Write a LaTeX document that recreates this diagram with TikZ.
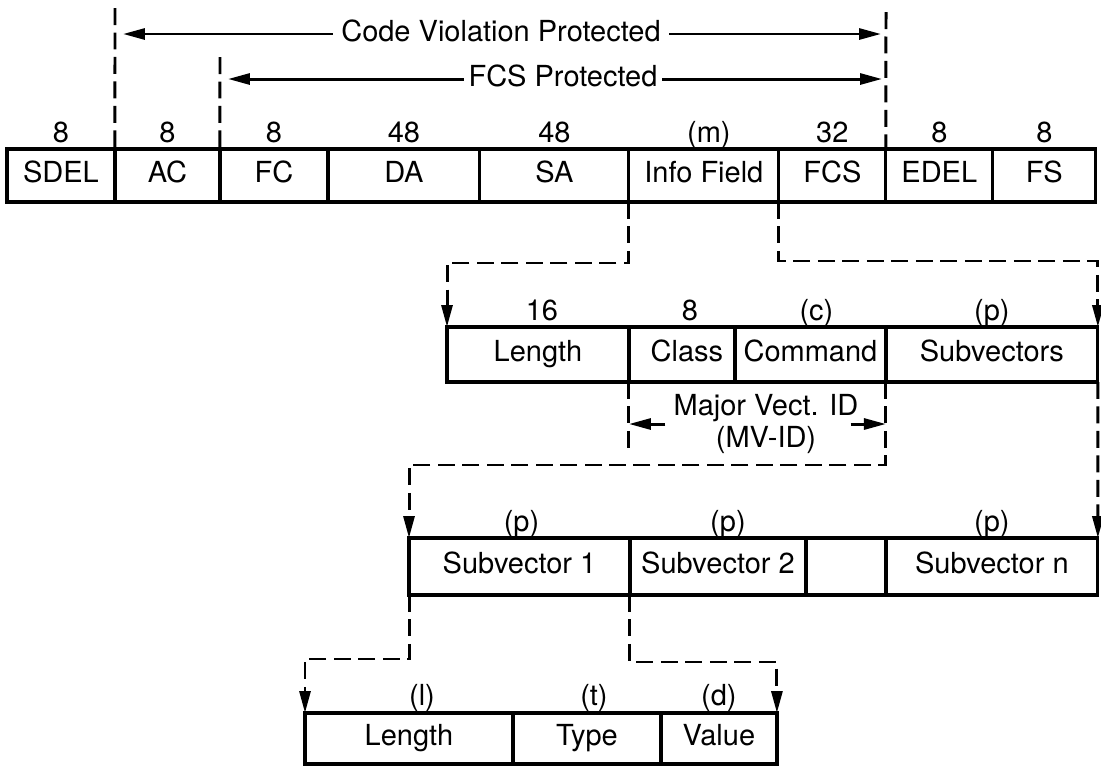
\documentclass[tikz,border=0pt]{standalone}
\usepackage{fontspec}
\setmainfont{TeX Gyre Heros}
\usetikzlibrary{positioning,arrows.meta}

\begin{document}
\begin{tikzpicture}[x=0.02cm, y=-0.02cm,
        font=\fontsize{16.5}{18.5}\selectfont,
        field/.style={draw, line width=1.8pt, anchor=north west, inner sep=0pt, outer sep=0pt,
                      text height=12pt, text depth=3.5pt},
        bits/.style={anchor=base, inner sep=0pt},
        dashline/.style={line width=1.7pt, dash pattern=on 0.34cm off 0.15cm},
        arr/.style={-{Triangle[length=0.44cm,width=0.22cm]}},
        solidarr/.style={line width=1.7pt, arr}]

    \useasboundingbox (0,0) rectangle (1101,765);

    % Frame fields
    \node[field, minimum width=2.16cm, minimum height=1.06cm] (sdel) at (7,149) {SDEL};
    \node[field, minimum width=2.10cm, minimum height=1.06cm, right=0pt of sdel] (ac) {AC};
    \node[field, minimum width=2.16cm, minimum height=1.06cm, right=0pt of ac] (fc) {FC};
    \node[field, minimum width=3.04cm, minimum height=1.06cm, right=0pt of fc] (da) {DA};
    \node[field, minimum width=2.98cm, minimum height=1.06cm, right=0pt of da] (sa) {SA};
    \node[field, minimum width=3.00cm, minimum height=1.06cm, right=0pt of sa] (info) {Info Field};
    \node[field, minimum width=2.14cm, minimum height=1.06cm, right=0pt of info] (fcs) {FCS};
    \node[field, minimum width=2.14cm, minimum height=1.06cm, right=0pt of fcs] (edel) {EDEL};
    \node[field, minimum width=2.06cm, minimum height=1.06cm, right=0pt of edel] (fs) {FS};

    \node[bits] (bsdel) at ([yshift=0.14cm]sdel.north) {8};
    \node[bits] (bac) at ([yshift=0.14cm]ac.north) {8};
    \node[bits] (bfc) at ([yshift=0.14cm]fc.north) {8};
    \node[bits] (bda) at ([yshift=0.14cm]da.north) {48};
    \node[bits] (bsa) at ([yshift=0.14cm]sa.north) {48};
    \node[bits] (binfo) at ([xshift=0.1cm,yshift=0.14cm]info.north) {(m)};
    \node[bits] (bfcs) at ([yshift=0.14cm]fcs.north) {32};
    \node[bits] (bedel) at ([yshift=0.14cm]edel.north) {8};
    \node[bits] (bfs) at ([yshift=0.14cm]fs.north) {8};

    % Protected ranges
    \coordinate (cvtop) at (115,8);
    \coordinate (fcstop) at (220,57);
    \coordinate (endtop) at (886,12);
    \draw[dashline] (cvtop) -- (sdel.north east);
    \draw[dashline] (fcstop) -- (ac.north east);
    \draw[dashline] (endtop) -- (fcs.north east);

    \node[field, draw=none, anchor=center, inner xsep=0.17cm] (cvp) at (501,34) {Code Violation Protected};
    \node[field, draw=none, anchor=center, inner xsep=0.1cm] (fcsp) at (563,79) {FCS Protected};
    \draw[solidarr] (cvp.west) -- ([xshift=0.16cm]cvp.west -| cvtop);
    \draw[solidarr] (cvp.east) -- ([xshift=-0.1cm]cvp.east -| endtop);
    \draw[solidarr] (fcsp.west) -- ([xshift=0.16cm]fcsp.west -| fcstop);
    \draw[solidarr] (fcsp.east) -- ([xshift=-0.08cm]fcsp.east -| endtop);

    % Info field
    \node[field, minimum width=3.64cm, minimum height=1.10cm] (len) at (447,327) {Length};
    \node[field, minimum width=2.12cm, minimum height=1.10cm, right=0pt of len] (class) {\hspace{0.2cm}Class};
    \node[field, minimum width=3.02cm, minimum height=1.10cm, right=0pt of class] (cmd) {Command};
    \node[field, minimum width=4.24cm, minimum height=1.10cm, right=0pt of cmd] (subv) {Subvectors};

    \node[bits] (blen) at ([xshift=0.08cm,yshift=0.14cm]len.north) {16};
    \node[bits] (bclass) at ([xshift=0.16cm,yshift=0.14cm]class.north) {8};
    \node[bits] (bcmd) at ([xshift=0.12cm,yshift=0.14cm]cmd.north) {(c)};
    \node[bits] (bsubv) at ([yshift=0.14cm]subv.north) {(p)};

    \draw[dashline, arr] (info.south west) -- ++(0,61) -| (len.north west);
    \draw[dashline, arr] (info.south east) -- ++(0,59) -| (subv.north east);

    % Major vector ID
    \node[align=center, inner sep=0pt] (mvid) at (766,424) {Major Vect. ID\\(MV-ID)};
    \draw[solidarr] ([xshift=-0.16cm]mvid.west) -- (mvid.west -| class.south west);
    \draw[solidarr] ([xshift=-0.16cm]mvid.east) -- (mvid.east -| cmd.south east);
    \draw[dashline] (class.south west) -- ++(0,66);

    % Subvectors
    \node[field, minimum width=4.42cm, minimum height=1.14cm] (svone) at (409,538) {Subvector 1};
    \node[field, minimum width=3.52cm, minimum height=1.14cm, right=0pt of svone] (svtwo) {Subvector 2};
    \node[field, minimum width=1.60cm, minimum height=1.14cm, right=0pt of svtwo] (svgap) {};
    \node[field, minimum width=4.24cm, minimum height=1.14cm, right=0pt of svgap] (svn) {Subvector n};

    \node[bits] (bsvone) at ([xshift=0.04cm,yshift=0.14cm]svone.north) {(p)};
    \node[bits] (bsvtwo) at ([xshift=0.2cm,yshift=0.14cm]svtwo.north) {(p)};
    \node[bits] (bsvn) at ([yshift=0.14cm]svn.north) {(p)};

    \draw[dashline, arr] (cmd.south east) -- ++(0,83) -| (svone.north west);
    \draw[dashline, arr] (subv.south east) -- (svn.north east);

    % One subvector
    \node[field, minimum width=4.16cm, minimum height=1.02cm] (tlen) at (305,713) {Length};
    \node[field, minimum width=2.96cm, minimum height=1.02cm, right=0pt of tlen] (ttype) {Type};
    \node[field, minimum width=2.32cm, minimum height=1.02cm, right=0pt of ttype] (tval) {Value};

    \node[bits] (btlen) at ([xshift=0.26cm,yshift=0.16cm]tlen.north) {(l)};
    \node[bits] (bttype) at ([xshift=0.14cm,yshift=0.16cm]ttype.north) {(t)};
    \node[bits] (btval) at ([yshift=0.16cm]tval.north) {(d)};

    \draw[dashline, arr] (svone.south west) -- ++(0,64) -| (tlen.north west);
    \draw[dashline, arr] (svone.south east) -- ++(0,67) -| (tval.north east);
\end{tikzpicture}
\end{document}
